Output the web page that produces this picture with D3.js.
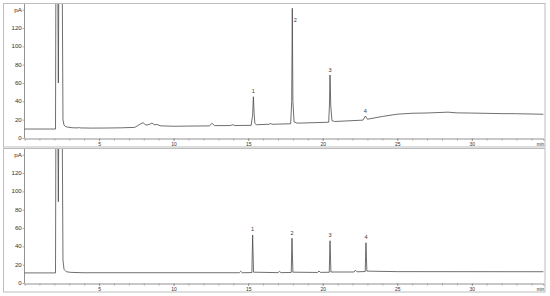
<!DOCTYPE html>
<html>
<head>
<meta charset="utf-8">
<script src="https://cdn.jsdelivr.net/npm/d3@7"></script>
<style>
  html, body { margin: 0; padding: 0; background: #fff; }
  svg { display: block; }
  text { font-family: "Liberation Sans", Arial, sans-serif; fill: #333; }
</style>
</head>
<body>
<svg id="chart" width="550" height="296"></svg>
<script>
// ---------- data ----------
const xTickValues = [5, 10, 15, 20, 25, 30];
const xMinorTicks = [1,2,3,4,5,6,7,8,9,10,11,12,13,14,15,16,17,18,19,20,21,22,23,24,25,26,27,28,29,30,31,32,33,34];
const yTickValues = [0, 20, 40, 60, 80, 100, 120, 140];
const yTickLabels = ["0", "20", "40", "60", "80", "100", "120", "pA"];
const xUnitLabel = "min";

const peakLabels = ["1", "2", "3", "4"];
const topPeakTimes = [15.35, 17.96, 20.49, 22.86];
const topPeakHeights = [45, 141.5, 68.7, 24];
const bottomPeakTimes = [15.30, 17.94, 20.49, 22.90];
const bottomPeakHeights = [52.4, 48.8, 46.1, 44];

// upper chromatogram (time in min, signal in pA)
const topTime = [0, 2.08, 2.11, 2.22, 2.27, 2.31, 2.52, 2.58, 2.65, 2.75, 2.9, 3.2, 3.6, 3.65, 3.7, 4.5, 5.5, 6.5,
  7.4, 7.8, 7.95, 8.15, 8.4, 8.55, 8.7, 8.9, 9.1, 10, 11, 12.4, 12.58, 12.75, 13.8, 13.98, 14.1, 15.2,
  15.3, 15.35, 15.4, 15.45, 15.55, 16.4, 16.5, 16.6, 17.85, 17.92, 17.96, 18.0, 18.08, 18.3,
  20.4, 20.45, 20.49, 20.54, 20.62, 20.8, 22.7, 22.86, 23.0, 24, 25, 26, 27, 28.4, 29, 30, 32, 33, 34.8];
const topSignal = [9.8, 9.8, 200, 200, 60, 200, 200, 20, 14, 12.5, 11.8, 11.2, 11, 11.8, 11, 10.8, 10.9, 11.1,
  11.6, 15.5, 16.7, 14, 15, 16.4, 14.5, 14.7, 13.3, 12.8, 13, 13.2, 16, 13.5, 13.6, 14.5, 13.6, 13.8,
  25, 45, 27, 16, 14.5, 15, 15.8, 15, 15.5, 40, 141.5, 40, 17.5, 16.2,
  17.2, 35, 68.7, 35, 19, 18, 19.5, 24, 20.5, 23.5, 26, 27, 27.3, 28.2, 27.4, 27.2, 26.6, 26.5, 25.9];

// lower chromatogram
const bottomTime = [0, 2.08, 2.11, 2.22, 2.27, 2.31, 2.52, 2.58, 2.65, 2.8, 3.1, 4, 14.4, 14.5, 14.6,
  15.25, 15.3, 15.36, 17.0, 17.1, 17.2, 17.89, 17.94, 18.0, 19.65, 19.75, 19.85, 20.44, 20.49, 20.55,
  22.1, 22.2, 22.3, 22.85, 22.9, 22.96, 23.5, 25, 34.8];
const bottomSignal = [11, 11, 200, 200, 88.7, 200, 200, 25, 15, 12.3, 11.6, 11.2, 11.2, 12.8, 11.2,
  11.4, 52.4, 11.8, 11.3, 12.6, 11.3, 11.5, 48.8, 11.8, 11.5, 13, 11.6, 11.7, 46.1, 12,
  12, 14, 12.2, 12.5, 44, 13, 12.8, 12.4, 12.3];

// ---------- layout ----------
const svg = d3.select("#chart");
const panelOffset = 145;
const x = d3.scaleLinear().domain([0, 34.8]).range([24.5, 543.4]);

const panels = [
  { time: topTime, signal: topSignal, peaks: topPeakTimes, heights: topPeakHeights, off: 0 },
  { time: bottomTime, signal: bottomSignal, peaks: bottomPeakTimes, heights: bottomPeakHeights, off: panelOffset }
];

panels.forEach((p, i) => {
  const g = svg.append("g").attr("transform", `translate(0,${p.off})`);
  const y = d3.scaleLinear().domain([0, 140]).range([138, 9.7]);

  // frame
  g.append("rect")
    .attr("x", 3.5).attr("y", 3.5).attr("width", 541.5).attr("height", 143.5)
    .attr("fill", "none").attr("stroke", "#bdbdbd").attr("stroke-width", 1);

  // clip
  const clipId = "clip" + i;
  g.append("clipPath").attr("id", clipId)
    .append("rect").attr("x", 24).attr("y", 4).attr("width", 520.5).attr("height", 134.5);

  // x axis (minor ticks)
  const xAxisMinor = d3.axisBottom(x).tickValues(xMinorTicks).tickSize(2).tickFormat("");
  const gx = g.append("g").attr("transform", "translate(0,138.5)").call(xAxisMinor);
  gx.select(".domain").attr("stroke", "#777").attr("stroke-width", 0.8);
  gx.selectAll(".tick line").attr("stroke", "#888").attr("stroke-width", 0.6);

  // x labels
  const xAxisLab = d3.axisBottom(x).tickValues(xTickValues).tickSize(2.5).tickPadding(1).tickFormat(d3.format("d"));
  const gx2 = g.append("g").attr("transform", "translate(0,138.5)").call(xAxisLab);
  gx2.select(".domain").remove();
  gx2.selectAll(".tick line").attr("stroke", "#777").attr("stroke-width", 0.6);
  gx2.selectAll(".tick text").attr("font-size", "5px").attr("fill", "#333");

  g.append("text").attr("x", 544).attr("y", 146).attr("text-anchor", "end")
    .attr("font-size", "4.5px").text(xUnitLabel);

  // y axis
  const yAxis = d3.axisLeft(y).tickValues(yTickValues).tickSize(2).tickPadding(0)
    .tickFormat((d, k) => yTickLabels[k]);
  const gy = g.append("g").attr("transform", "translate(24.5,0)").call(yAxis);
  gy.select(".domain").attr("d", "M0,4V138.5").attr("stroke", "#777").attr("stroke-width", 0.8);
  gy.selectAll(".tick line").attr("stroke", "#777").attr("stroke-width", 0.6);
  gy.selectAll(".tick text").attr("font-size", "4.6px").attr("fill", "#333")
    .attr("dy", "0.35em").attr("transform", "scale(1.35,1)");

  // trace
  const pts = p.time.map((t, k) => [t, p.signal[k]]);
  const line = d3.line().x(d => x(d[0])).y(d => y(d[1]));
  g.append("path")
    .attr("clip-path", `url(#${clipId})`)
    .attr("d", line(pts))
    .attr("fill", "none").attr("stroke", "#4a4a4a").attr("stroke-width", 0.8)
    .attr("stroke-linejoin", "round");

  // peak labels
  p.peaks.forEach((t, k) => {
    const ay = y(p.heights[k]);
    const beside = ay < 15;
    g.append("text")
      .attr("x", x(t) + (beside ? 3 : 0))
      .attr("y", beside ? ay + 13.5 : ay - 3.5)
      .attr("text-anchor", "middle")
      .attr("font-size", "5.5px")
      .attr("fill", "#222")
      .text(peakLabels[k]);
  });
});
</script>
</body>
</html>
